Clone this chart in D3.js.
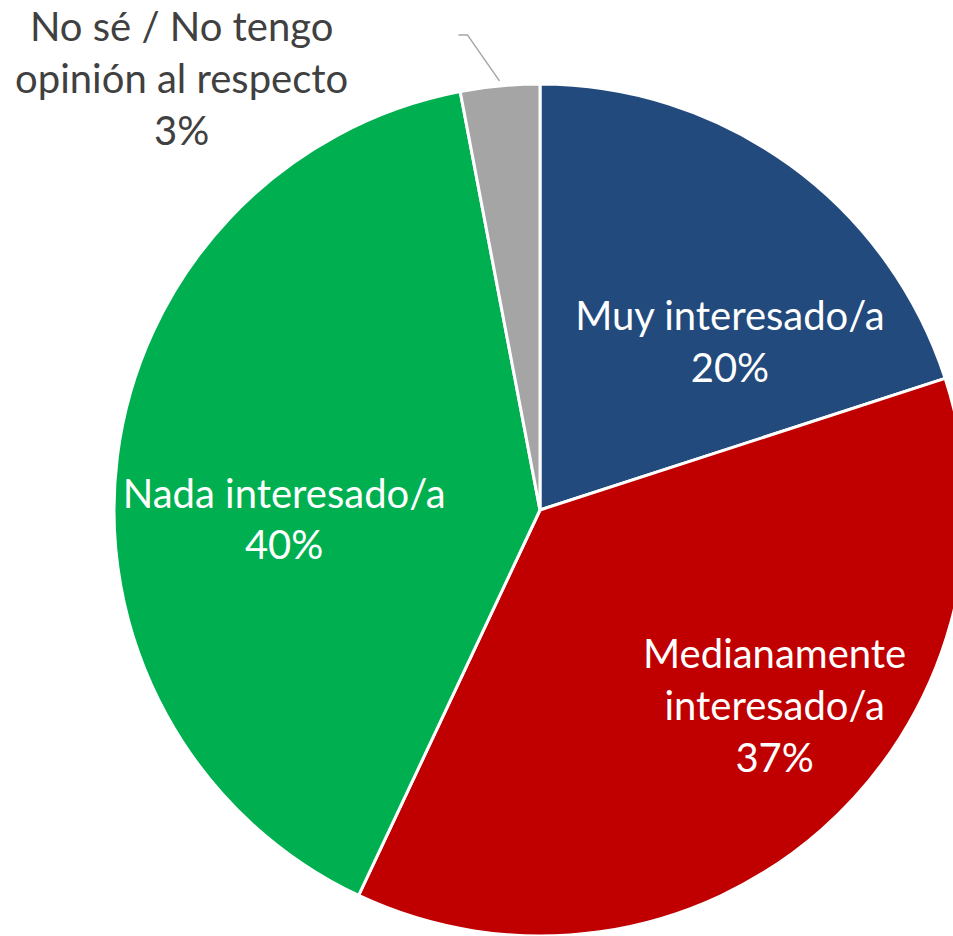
<!DOCTYPE html>
<html>
<head>
<meta charset="utf-8">
<script src="https://cdn.jsdelivr.net/npm/d3@7"></script>
<style>
  html, body { margin: 0; padding: 0; background: #ffffff; }
  svg { display: block; }
</style>
</head>
<body>
<svg id="chart" width="953" height="936"></svg>
<script>
// Survey answers, in clockwise order from 12 o'clock
const categories = ["Muy interesado/a", "Medianamente interesado/a", "Nada interesado/a", "No sé / No tengo opinión al respecto"];
const values = [20, 37, 40, 3];
const labelLines = [
  ["Muy interesado/a", "20%"],
  ["Medianamente", "interesado/a", "37%"],
  ["Nada interesado/a", "40%"],
  ["No sé / No tengo", "opinión al respecto", "3%"]
];

// Presentation settings
const colors = ["#224A7C", "#C00000", "#00B050", "#A5A5A5"];
const labelColors = ["#ffffff", "#ffffff", "#ffffff", "#404040"];
// label block centres: [angle in degrees clockwise from 12 o'clock, distance from centre]
const labelPolar = [[48.4, 254], [129.7, 305], [268.1, 256], [320.3, 561]];

const cx = 540, cy = 510, radius = 426;
const fontSize = 40, lineGap = 52;

const svg = d3.select("#chart");
const g = svg.append("g").attr("transform", `translate(${cx},${cy})`);

const pie = d3.pie().sort(null).value(d => d);
const arcs = pie(values);
const arc = d3.arc().innerRadius(0).outerRadius(radius);

g.selectAll("path.slice")
  .data(arcs)
  .join("path")
  .attr("class", "slice")
  .attr("d", arc)
  .attr("fill", (d, i) => colors[i])
  .attr("stroke", "#ffffff")
  .attr("stroke-width", 3)
  .attr("stroke-linejoin", "round");

// polar helper (angle measured clockwise from the top)
const polar = (deg, r) => {
  const a = deg * Math.PI / 180;
  return [r * Math.sin(a), -r * Math.cos(a)];
};

// leader line for the small outside slice
const small = arcs[3];
const midA = (small.startAngle + small.endAngle) / 2;
const edge = [(radius + 5) * Math.sin(midA), -(radius + 5) * Math.cos(midA)];
const elbow = [edge[0] - 32, edge[1] - 46];
g.append("polyline")
  .attr("points", [[elbow[0] - 9, elbow[1]], elbow, edge].map(p => p.join(",")).join(" "))
  .attr("fill", "none")
  .attr("stroke", "#A6A6A6")
  .attr("stroke-width", 1.5);

// slice labels
arcs.forEach((d, i) => {
  const [lx, ly] = polar(labelPolar[i][0], labelPolar[i][1]);
  const lines = labelLines[i];
  const t = g.append("text")
    .attr("text-anchor", "middle")
    .attr("font-family", "Lato, 'Open Sans', sans-serif")
    .attr("font-size", fontSize)
    .attr("fill", labelColors[i]);
  lines.forEach((s, k) => {
    t.append("tspan")
      .attr("x", lx)
      .attr("y", ly + (k - (lines.length - 1) / 2) * lineGap)
      .attr("dominant-baseline", "central")
      .text(s);
  });
});
</script>
</body>
</html>
